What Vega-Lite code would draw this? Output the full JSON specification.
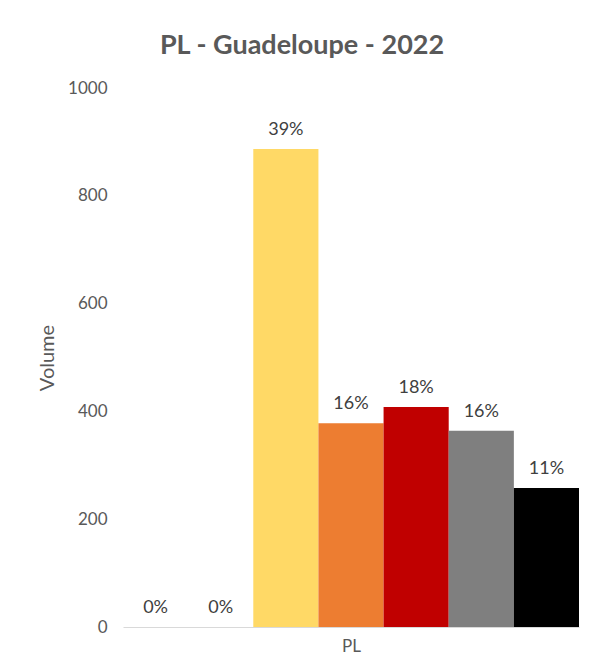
{
  "$schema": "https://vega.github.io/schema/vega-lite/v6.json",
  "autosize": {"type": "none"},
  "width": 456,
  "height": 539,
  "padding": {"left": 123, "top": 88, "right": 13, "bottom": 44},
  "background": "white",
  "title": {
    "text": "PL - Guadeloupe - 2022",
    "font": "Lato",
    "fontSize": 27,
    "fontWeight": "bold",
    "color": "#595959",
    "anchor": "middle",
    "dx": -49,
    "offset": 19
  },
  "data": {
    "values": [
      {"classe": "C1", "volume": 0, "pct": "0%"},
      {"classe": "C2", "volume": 0, "pct": "0%"},
      {"classe": "C3", "volume": 887, "pct": "39%"},
      {"classe": "C4", "volume": 378, "pct": "16%"},
      {"classe": "C5", "volume": 408, "pct": "18%"},
      {"classe": "C6", "volume": 364, "pct": "16%"},
      {"classe": "C7", "volume": 258, "pct": "11%"}
    ]
  },
  "encoding": {
    "x": {
      "field": "classe",
      "type": "nominal",
      "sort": null,
      "scale": {"paddingInner": 0, "paddingOuter": 0},
      "axis": {
        "title": "PL",
        "labels": false,
        "ticks": false,
        "domainColor": "#d9d9d9",
        "titleFont": "Lato",
        "titleFontSize": 17,
        "titleFontWeight": "normal",
        "titleColor": "#595959",
        "titlePadding": 11
      }
    },
    "y": {
      "field": "volume",
      "type": "quantitative",
      "scale": {"domain": [0, 1000]},
      "axis": {
        "title": "Volume",
        "values": [0, 200, 400, 600, 800, 1000],
        "format": "d",
        "grid": false,
        "domain": false,
        "ticks": false,
        "labelPadding": 16,
        "labelFont": "Lato",
        "labelFontSize": 17,
        "labelColor": "#595959",
        "titleFont": "Lato",
        "titleFontSize": 20,
        "titleFontWeight": "normal",
        "titleColor": "#595959",
        "titlePadding": 10
      }
    }
  },
  "layer": [
    {
      "mark": {"type": "bar"},
      "encoding": {
        "color": {
          "field": "classe",
          "type": "nominal",
          "sort": null,
          "scale": {
            "domain": ["C1", "C2", "C3", "C4", "C5", "C6", "C7"],
            "range": ["#4472C4", "#A5A5A5", "#FFD966", "#ED7D31", "#C00000", "#7F7F7F", "#000000"]
          },
          "legend": null
        }
      }
    },
    {
      "mark": {"type": "text", "baseline": "bottom", "dy": -10, "font": "Lato", "fontSize": 18, "color": "#404040"},
      "encoding": {"text": {"field": "pct"}}
    }
  ],
  "config": {"view": {"stroke": null}}
}
